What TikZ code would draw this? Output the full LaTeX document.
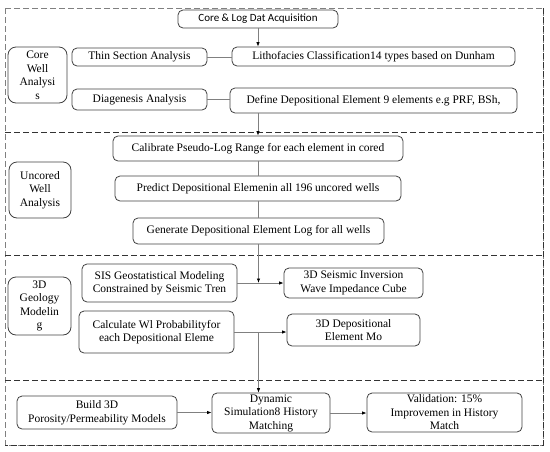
\documentclass[tikz,border=0pt]{standalone}
\usepackage{fontspec}
\setmainfont{Liberation Serif}
\newfontfamily\serfont{Liberation Serif}
\newfontfamily\calfont{Carlito}
\usetikzlibrary{arrows.meta}
\definecolor{linegray}{RGB}{128,128,128}
\definecolor{boxgray}{RGB}{64,64,64}
\begin{document}
\begin{tikzpicture}[x=1pt,y=-1pt,
  box/.style={draw=boxgray, line width=0.8pt, rounded corners=5pt, inner sep=1pt, align=center,
    font=\serfont\fontsize{11.5}{13.5}\selectfont},
  lbl/.style={box, rounded corners=8pt},
  conn/.style={draw=linegray, line width=0.8pt},
  arr/.style={conn, -{Latex[length=4.5pt,width=3.5pt,color=black]}},
  sep/.style={draw=black!80, line width=0.8pt, dash pattern=on 6pt off 3pt}
]
\useasboundingbox (0,0) rectangle (550,451);
% frame
\draw[draw=gray, line width=0.8pt, dash pattern=on 6pt off 3pt] (5,8) rectangle (543,445);
\draw[sep] (543,8) -- (543,445) -- (5,445);
\draw[sep] (5,132) -- (543,132);
\draw[sep] (5,255) -- (543,255);
\draw[sep] (5,380) -- (543,380);

% section 1
\node[box, font=\calfont\fontsize{11}{13}\selectfont, minimum width=160pt, minimum height=18pt] (acq) at (258,19) {Core \& Log Dat Acquisition};
\node[lbl, minimum width=59pt, minimum height=56pt] (lblA) at (37.5,75) {Core\\Well\\Analysi\\s};
\node[box, minimum width=135pt, minimum height=18pt] (thin) at (139.5,57) {Thin Section Analysis};
\node[box, minimum width=283pt, minimum height=19pt] (litho) at (373.5,56.5) {Lithofacies Classification14 types based on Dunham};
\node[box, minimum width=135pt, minimum height=21pt] (diag) at (139.5,99.5) {Diagenesis Analysis};
\node[box, minimum width=287pt, minimum height=25pt] (define) at (373.5,100.5) {Define Depositional Element 9 elements e.g PRF, BSh,};

% section 2
\node[box, minimum width=290pt, minimum height=25pt] (calib) at (258,148.5) {Calibrate Pseudo-Log Range for each element in cored};
\node[lbl, minimum width=62pt, minimum height=56pt] (lblB) at (40,190) {Uncored\\Well\\Analysis};
\node[box, minimum width=286pt, minimum height=25pt] (predict) at (258,188.5) {Predict Depositional Elemenin all 196 uncored wells};
\node[box, minimum width=251pt, minimum height=26pt] (gen) at (258.5,231) {Generate Depositional Element Log for all wells};

% section 3
\node[box, minimum width=155pt, minimum height=38pt] (sis) at (159.5,283) {SIS Geostatistical Modeling\\Constrained by Seismic Tren};
\node[lbl, minimum width=63pt, minimum height=58pt] (lblC) at (39.5,306) {3D\\Geology\\Modelin\\g};
\node[box, minimum width=155pt, minimum height=42pt] (calc) at (156.5,332) {Calculate Wl Probabilityfor\\each Depositional Eleme};
\node[box, minimum width=139pt, minimum height=30pt] (seis) at (353.5,283) {3D Seismic Inversion\\Wave Impedance Cube};
\node[box, minimum width=133pt, minimum height=32pt] (dep) at (353.5,330) {3D Depositional\\Element Mo};

% section 4
\node[box, minimum width=160pt, minimum height=33pt] (build) at (97,412.5) {Build 3D\\Porosity/Permeability Models};
\node[box, inner sep=0pt, minimum width=118pt, minimum height=40pt] (dyn) at (271,413) {Dynamic\\Simulation8 History\\Matching};
\node[box, inner sep=0pt, minimum width=155pt, minimum height=39pt] (val) at (444.5,412.5) {Validation: 15\%\\Improvemen in History\\Match};

% connectors
\draw[arr] (acq.south) -- (acq.south |- litho.north);
\draw[conn] (thin.east) -- (thin.east -| litho.west);
\draw[conn] (diag.east) -- (diag.east -| define.west);
\draw[arr] (define.south -| calib.north) -- (calib.north);
\draw[conn] (calib.south) -- (calib.south |- predict.north);
\draw[conn] (predict.south) -- (predict.south |- gen.north);
\coordinate (j1) at (gen.south |- sis.east);
\draw[arr] (gen.south) -- (j1);
\draw[arr] (sis.east) -- (seis.west);
\draw[arr] (calc.east) -- (calc.east -| dep.west);
\coordinate (j2) at (gen.south |- calc.east);
\draw[arr] (j2) -- (j2 |- dyn.north);
\draw[arr] (build.east) -- (build.east -| dyn.west);
\draw[arr] (dyn.east) -- (dyn.east -| val.west);
\end{tikzpicture}
\end{document}
